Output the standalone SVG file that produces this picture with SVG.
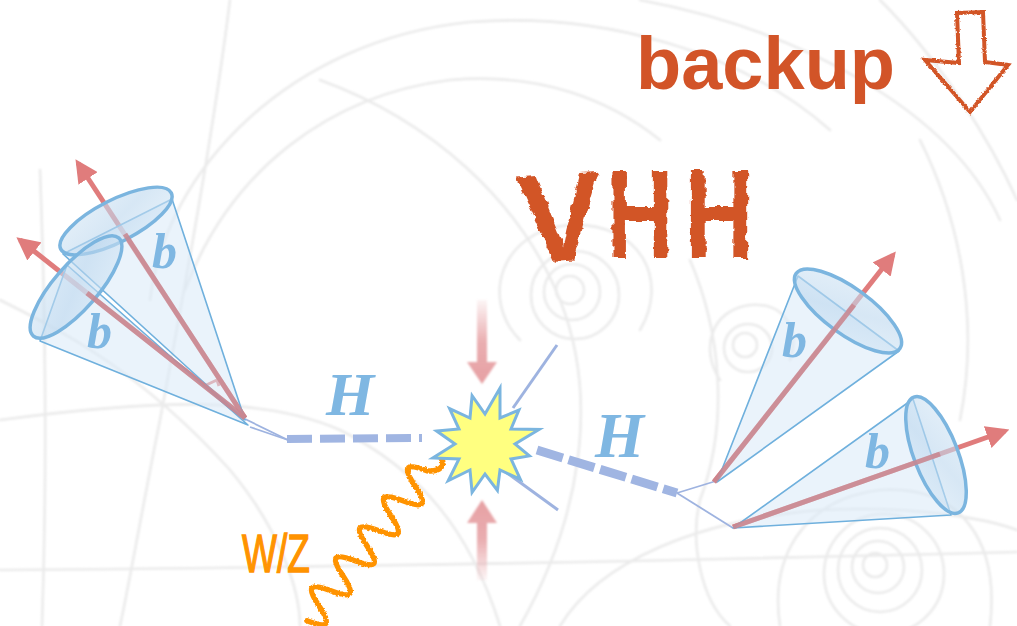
<svg xmlns="http://www.w3.org/2000/svg" width="1017" height="626" viewBox="0 0 1017 626">
  <defs>
    <style>
      .sketch { fill: none; stroke: #ebebeb; stroke-width: 2.6; stroke-linecap: round; }
      .cone { fill: #d9eaf7; fill-opacity: 0.55; stroke: #6fb0dd; stroke-width: 1.6; stroke-linejoin: round; }
      .rim { fill: url(#rimFill); fill-opacity: 0.6; stroke: #7bb5df; stroke-width: 3.5; }
      .jet { stroke: #e07c7c; stroke-width: 5; fill: none; marker-end: url(#jetHead); }
      .jet-in { stroke: #c9868f; stroke-width: 5; fill: none; stroke-opacity: 0.85; }
      .label { font-family: "Liberation Serif", "Times New Roman", serif; font-weight: bold; font-style: italic; fill: #7fb7e2; }
      .higgs { fill: none; stroke: #a0b5e2; }
      .thin { stroke: #9eb3e0; stroke-width: 1.8; fill: none; }
      .title { font-family: "Liberation Sans", Arial, sans-serif; font-weight: bold; fill: #d25428; }
    </style>
    <marker id="jetHead" viewBox="0 0 10 10" refX="8" refY="5" markerWidth="4.6" markerHeight="4.6" orient="auto">
      <path d="M0,0 L10,5 L0,10 z" fill="#e07c7c"/>
    </marker>
    <linearGradient id="rimFill" x1="0" y1="0" x2="1" y2="1">
      <stop offset="0" stop-color="#d3e6f5"/>
      <stop offset="0.5" stop-color="#bcd7ee"/>
      <stop offset="1" stop-color="#d6e8f6"/>
    </linearGradient>
    <linearGradient id="beamDown" x1="0" y1="0" x2="0" y2="1">
      <stop offset="0" stop-color="#e6a0a3" stop-opacity="0.1"/>
      <stop offset="0.5" stop-color="#e6a0a3" stop-opacity="0.85"/>
      <stop offset="1" stop-color="#e6a0a3" stop-opacity="1"/>
    </linearGradient>
    <linearGradient id="beamUp" x1="0" y1="1" x2="0" y2="0">
      <stop offset="0" stop-color="#e6a0a3" stop-opacity="0.1"/>
      <stop offset="0.5" stop-color="#e6a0a3" stop-opacity="0.85"/>
      <stop offset="1" stop-color="#e6a0a3" stop-opacity="1"/>
    </linearGradient>
    <filter id="rough" x="-10%" y="-10%" width="120%" height="120%">
      <feTurbulence type="fractalNoise" baseFrequency="0.09" numOctaves="3" seed="4" result="noise"/>
      <feDisplacementMap in="SourceGraphic" in2="noise" scale="7" xChannelSelector="R" yChannelSelector="G"/>
    </filter>
    <filter id="fuzzy" x="-10%" y="-10%" width="120%" height="120%">
      <feTurbulence type="fractalNoise" baseFrequency="0.5" numOctaves="2" seed="2" result="noise"/>
      <feDisplacementMap in="SourceGraphic" in2="noise" scale="3" xChannelSelector="R" yChannelSelector="G"/>
    </filter>
    <filter id="soft" x="-20%" y="-20%" width="140%" height="140%">
      <feGaussianBlur stdDeviation="1.2"/>
    </filter>
  </defs>

  <rect width="1017" height="626" fill="#ffffff"/>

  <!-- faint bubble-chamber tracks behind everything -->
  <g id="background" filter="url(#soft)">
    <path class="sketch" d="M150 300 C165 170 290 40 470 22 C600 12 740 50 830 130"/>
    <path class="sketch" d="M185 290 C230 170 330 95 450 80 C540 72 610 100 660 140"/>
    <path class="sketch" d="M230 0 C215 120 190 260 160 420 C140 520 130 580 120 626"/>
    <path class="sketch" d="M40 170 C45 300 48 450 42 626"/>
    <path class="sketch" d="M0 570 C300 568 700 560 1017 552"/>
    <path class="sketch" d="M0 420 C150 400 260 395 340 430 C420 470 470 530 500 626"/>
    <path class="sketch" d="M320 80 C430 120 520 200 560 300 C600 400 580 520 520 626"/>
    <path class="sketch" d="M640 0 C800 30 950 110 1000 220"/>
    <path class="sketch" d="M880 0 C940 60 990 140 1017 200"/>
    <path class="sketch" d="M0 300 C60 330 140 370 230 470 C280 530 300 590 300 626"/>
    <path class="sketch" d="M560 626 C600 560 700 520 820 510 C920 505 990 520 1017 530"/>
    <path class="sketch" d="M690 260 C720 330 730 420 700 500 C690 540 700 600 730 626"/>
    <path class="sketch" d="M920 140 C960 220 980 320 960 420"/>
    <!-- spiral clusters -->
    <g class="sketch" stroke-width="2.2">
      <circle cx="570" cy="290" r="14"/>
      <circle cx="572" cy="292" r="28"/>
      <circle cx="575" cy="295" r="44"/>
      <path d="M520 340 C480 300 500 230 570 225 C640 222 670 280 640 330"/>
      <circle cx="745" cy="345" r="12"/>
      <circle cx="748" cy="348" r="24"/>
      <path d="M720 380 C700 350 710 310 750 305 C785 302 800 330 790 360"/>
      <circle cx="875" cy="565" r="12"/>
      <circle cx="878" cy="567" r="26"/>
      <circle cx="880" cy="570" r="42"/>
      <circle cx="884" cy="574" r="60"/>
      <path d="M780 626 C770 560 800 500 880 490 C960 485 1000 540 990 626"/>
    </g>
  </g>

  <!-- backup heading with outlined arrow -->
  <g id="backup">
    <text class="title" x="636" y="89" font-size="74">backup</text>
    <polygon points="957,13 983,12 985,62 1008,65 970,112 925,60 959,63" fill="none" stroke="#d25428" stroke-width="4" stroke-linejoin="miter" filter="url(#fuzzy)"/>
  </g>

  <!-- VHH title, painted look -->
  <g id="vhh" class="title" font-size="126" filter="url(#rough)">
    <text transform="translate(564,261) rotate(-4)" text-anchor="middle">V</text>
    <text transform="translate(640,258) scale(0.74,1)" text-anchor="middle">H</text>
    <text transform="translate(719,258) scale(0.76,1)" text-anchor="middle">H</text>
  </g>

  <!-- incoming beams -->
  <g id="beams" filter="url(#soft)">
    <path d="M477 300 L487 300 L487 362 L497 362 L482 384 L467 362 L477 362 Z" fill="url(#beamDown)"/>
    <path d="M477 580 L487 580 L487 523 L497 523 L482 500 L467 523 L477 523 Z" fill="url(#beamUp)"/>
  </g>

  <g id="connectors">
    <!-- Higgs propagators -->
    <line class="higgs" x1="287" y1="439" x2="422" y2="438" stroke-width="8" stroke-dasharray="25 8"/>
    <line class="higgs" x1="537" y1="450" x2="677" y2="493" stroke-width="9" stroke-dasharray="27 6"/>
    <!-- splitting into jets -->
    <line class="thin" x1="288" y1="440" x2="245" y2="419"/>
    <line class="thin" x1="288" y1="440" x2="250" y2="427"/>
    <line class="thin" x1="677" y1="493" x2="716" y2="481"/>
    <line class="thin" x1="677" y1="493" x2="733" y2="528"/>
    <!-- spectator tracks -->
    <line x1="513" y1="408" x2="557" y2="345" stroke="#9eb3e0" stroke-width="3"/>
    <line x1="503" y1="470" x2="558" y2="510" stroke="#9eb3e0" stroke-width="3"/>
    <!-- vector boson -->
    <path id="boson" filter="url(#fuzzy)" fill="none" stroke="#ff9300" stroke-width="5.5" stroke-linecap="round"
      d="M441 457 C446 466 440 472 426.9 470.8 C405.3 462.5 402.1 466.6 414.9 485.8
         S424.5 509.1 402.9 500.8 S378.1 496.6 390.9 515.8 S400.5 539.1 378.9 530.8
         S354.1 526.6 366.9 545.8 S376.5 569.1 354.9 560.8 S330.1 556.6 342.9 575.8
         S352.5 599.1 330.9 590.8 S306.1 586.6 318.9 605.8 S328.5 629.1 306.9 620.8"/>
  </g>

  <!-- interaction vertex -->
  <g id="vertex">
    <polygon fill="#ffff80" stroke="#7bb5df" stroke-width="3" stroke-linejoin="miter"
      points="436.7,431.1 459,429 449.6,408.6 470,418 472.1,395.7 485,414 500,388 500,418 518.9,410.1 511,429 539.1,429.5 515,444 529.4,455.9 511,459 520.4,479.4 500,470 497.4,490.4 485,474 472.1,492.3 470,470 448.2,480.8 459,459 432.8,458 455,444"/>
  </g>

  <!-- left b-jet pair -->
  <g id="jets-left">
    <line class="jet" x1="245" y1="418" x2="78" y2="163"/>
    <line class="jet" x1="245" y1="418" x2="20" y2="240"/>
    <polyline points="204,386 217,380 219,386" fill="none" stroke="#e07c7c" stroke-width="3"/>
    <polygon class="cone" points="245,420 172,199 63,254"/>
    <ellipse class="rim" cx="116" cy="221" rx="62" ry="21" transform="rotate(-27 116 221)"/>
    <polygon class="cone" points="248,425 67,265 40,341"/>
    <ellipse class="rim" cx="76" cy="287" rx="65" ry="22" transform="rotate(-49 76 287)"/>
    <!-- jet axes seen through the cones -->
    <line class="jet-in" x1="245" y1="418" x2="125" y2="234"/>
    <line class="jet-in" x1="245" y1="418" x2="87" y2="293"/>
    <text class="label" x="152" y="268" font-size="50">b</text>
    <text class="label" x="87" y="348" font-size="50">b</text>
  </g>

  <!-- right b-jet pair -->
  <g id="jets-right">
    <line class="jet" x1="714" y1="482" x2="893" y2="255"/>
    <line class="jet" x1="733" y1="527" x2="1005" y2="431"/>
    <polygon class="cone" points="717,482 798,276 899,351"/>
    <ellipse class="rim" cx="848" cy="311" rx="64" ry="23" transform="rotate(36 848 311)"/>
    <polygon class="cone" points="733,528 913,399 951,515"/>
    <ellipse class="rim" cx="936" cy="455" rx="62" ry="22" transform="rotate(69 936 455)"/>
    <line class="jet-in" x1="714" y1="482" x2="854" y2="305"/>
    <line class="jet-in" x1="733" y1="527" x2="940" y2="454"/>
    <text class="label" x="782" y="357" font-size="50">b</text>
    <text class="label" x="865" y="468" font-size="50">b</text>
  </g>

  <!-- propagator labels -->
  <g id="higgs-labels">
    <text class="label" x="326" y="415" font-size="62">H</text>
    <text class="label" x="595" y="457" font-size="63">H</text>
  </g>

  <g id="boson-label">
    <text transform="translate(242,572) scale(0.7,1)" font-family="Liberation Sans, Arial, sans-serif" font-size="53" fill="#ff9300" stroke="#ff9300" stroke-width="1.4">W/Z</text>
  </g>
</svg>
